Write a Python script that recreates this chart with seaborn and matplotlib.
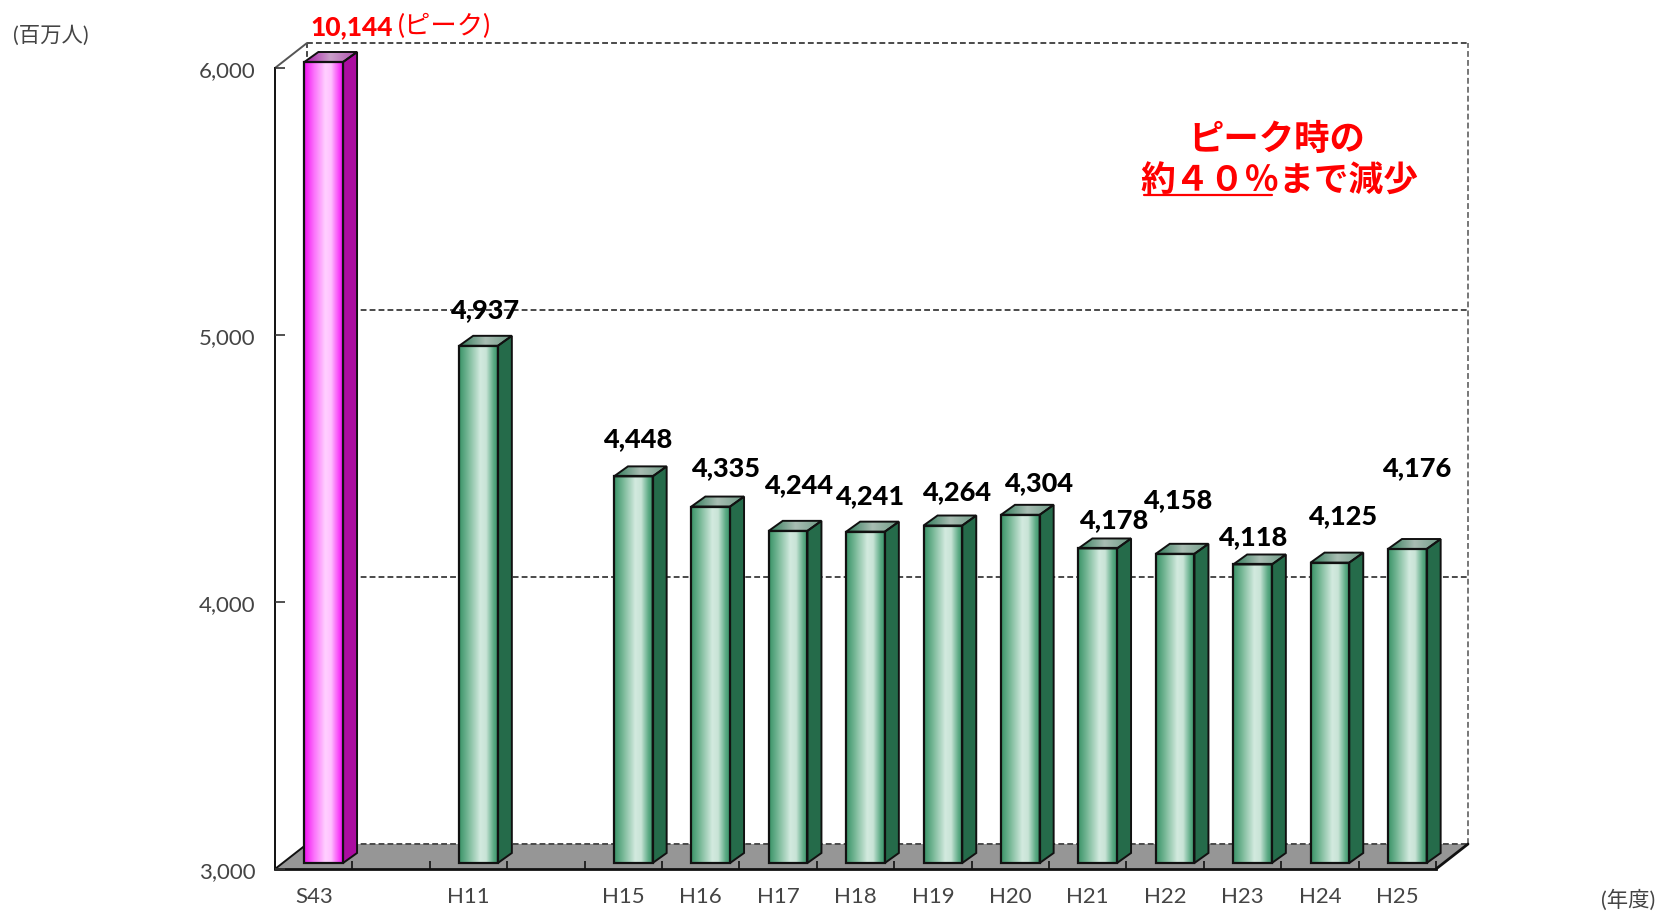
import numpy as np
import pandas as pd
import seaborn as sns
import matplotlib
matplotlib.use("Agg")
import matplotlib.pyplot as plt
from matplotlib.colors import LinearSegmentedColormap
from matplotlib.lines import Line2D
from matplotlib.patches import Polygon
from matplotlib.transforms import Affine2D

# data
categories = ["S43", "H11", "H15", "H16", "H17", "H18", "H19", "H20", "H21", "H22", "H23", "H24", "H25"]
values = [10144, 4937, 4448, 4335, 4244, 4241, 4264, 4304, 4178, 4158, 4118, 4125, 4176]
slots = ["S43", " ", "H11", "  ", "H15", "H16", "H17", "H18", "H19", "H20", "H21", "H22", "H23", "H24", "H25"]
yticks = [3000, 4000, 5000, 6000]

# offset of each value label from the front of its bar, pixels
label_dx = [0, 6, 4, 15, 10, 4, 14, 18, 16, 3, 0, 13, 9]
label_dy = [0, 37, 38, 39, 47, 37, 34, 33, 29, 55, 28, 48, 82]

W, H = 1659, 912
JP = ["Lato", "Noto Sans CJK JP"]

sns.set_theme(style="white")
plt.rcParams["font.family"] = JP

fig = plt.figure(figsize=(W / 100, H / 100), dpi=100)
ax = fig.add_axes([275 / W, (H - 870) / H, (1436 - 275) / W, (870 - 69) / H])

df = pd.DataFrame({"year": categories, "value": values})
sns.barplot(data=df, x="year", y="value", order=slots, width=0.5, color="#3f9a70",
            saturation=1, errorbar=None, ax=ax)
ax.set_ylim(3000, 6000)
ax.set_xlim(-0.5, 14.5)
ax.set_xlabel("")
ax.set_ylabel("")
ax.set_axisbelow(False)

# pixel offsets: back wall, and the plane the bars stand on
back = ax.transData + Affine2D().translate(32, 25)
plane = ax.transData + Affine2D().translate(10, 6)
px, py = 14, 10

x0, x1 = ax.get_xlim()
xperpx = (x1 - x0) / 1161
yperpx = 3000 / 801
bx, by = 32 * xperpx, 25 * yperpx

floor = Polygon([[x0, 3000], [x1, 3000], [x1 + bx, 3000 + by], [x0 + bx, 3000 + by]],
                closed=True, fc="#969696", ec="none", zorder=1, clip_on=False)
ax.add_patch(floor)

# back wall
dash = dict(color="#4a4a4a", lw=1.4, ls=(0, (3, 1.6)), clip_on=False, zorder=1.5)
for t in yticks:
    ax.plot([x0, x1], [t, t], transform=back, **dash)
ax.plot([x1, x1], [3000, 6000], transform=back, color="#777777", lw=1.4, ls=(0, (3, 1.6)), clip_on=False, zorder=1.5)
ax.plot([x0, x0], [3000, 6000], transform=back, **dash)

# side wall and floor edges
ax.plot([x0, x0 + bx], [6000, 6000 + by], color="#555555", lw=1.4, clip_on=False, zorder=1.6)
ax.plot([x0, x0 + bx], [3000, 3000 + by], color="#111111", lw=1.4, clip_on=False, zorder=1.6)
ax.plot([x1, x1 + bx], [3000, 3000 + by], color="#111111", lw=2, clip_on=False, zorder=1.6)

green = LinearSegmentedColormap.from_list("g", [(0, "#3a9468"), (0.25, "#7dbb9b"), (0.55, "#d3eadf"),
                                                (0.7, "#c8e4d6"), (0.9, "#5aa983"), (1, "#3b966c")])
pink = LinearSegmentedColormap.from_list("p", [(0, "#f010f0"), (0.25, "#fb70fb"), (0.55, "#ffd0ff"),
                                               (0.7, "#ffc0ff"), (0.9, "#f848f8"), (1, "#f010f0")])
top_green = LinearSegmentedColormap.from_list("tg", ["#2f7a58", "#a9bdb3", "#6f9c86"])
top_pink = LinearSegmentedColormap.from_list("tp", ["#a818a8", "#c9a0c9", "#b050b0"])
grad = np.linspace(0, 1, 64).reshape(1, -1)

# the S43 bar runs off the scale, so it stops at the top of the axis
bars = [p for p in ax.patches if p is not floor]
for i, p in enumerate(bars):
    first = categories[i] == "S43"
    top = min(values[i], yticks[-1])
    left, right = p.get_x(), p.get_x() + p.get_width()
    dx, dy = px * xperpx, py * yperpx

    ax.imshow(grad, cmap=pink if first else green, aspect="auto", extent=[left, right, 3000, top],
              transform=plane, zorder=3, clip_on=False)
    p.set_transform(plane)
    p.set_y(3000)
    p.set_height(top - 3000)
    p.set_facecolor("none")
    p.set_edgecolor("#111111")
    p.set_linewidth(1.6)
    p.set_zorder(4)
    p.set_clip_on(False)

    side = Polygon([[right, 3000], [right, top], [right + dx, top + dy], [right + dx, 3000 + dy]],
                   closed=True, fc="#ab0da0" if first else "#256b4a", ec="#111111", lw=1.4,
                   transform=plane, zorder=3.5, clip_on=False)
    ax.add_patch(side)

    # top face, gradient cut to the parallelogram
    roof = Polygon([[left, top], [right, top], [right + dx, top + dy], [left + dx, top + dy]],
                   closed=True, fc="none", ec="#111111", lw=1.4, transform=plane, zorder=3.6, clip_on=False)
    ax.add_patch(roof)
    im2 = ax.imshow(grad, cmap=top_pink if first else top_green, aspect="auto",
                    extent=[left, right + dx, top, top + dy], transform=plane, zorder=3.4)
    im2.set_clip_on(True)
    im2.set_clip_box(fig.bbox)
    im2.set_clip_path(roof.get_path(), roof.get_transform())

ax.set_xlim(x0, x1)
ax.set_ylim(3000, 6000)

# value labels
for i, cat in enumerate(categories):
    if cat == "S43":
        continue
    ax.annotate(f"{values[i]:,}", xy=(slots.index(cat), values[i]), xycoords=plane,
                xytext=(label_dx[i], label_dy[i]),
                textcoords="offset pixels", ha="center", va="center", fontsize=19.5,
                fontweight="black", color="black", zorder=6, annotation_clip=False)

fig.text(310 / W, 1 - 27 / H, "10,144", fontsize=19, fontweight="black", color="#ff0000", ha="left", va="center")
fig.text(398 / W, 1 - 26 / H, "(ピーク)", fontsize=19, color="#ff0000", ha="left", va="center", family=JP)

# axes, ticks
for s in ["top", "right"]:
    ax.spines[s].set_visible(False)
ax.spines["left"].set_color("#111111")
ax.spines["left"].set_linewidth(1.4)
ax.spines["bottom"].set_color("#111111")
ax.spines["bottom"].set_linewidth(2)
ax.spines["left"].set_zorder(2)
ax.spines["bottom"].set_zorder(2)

ax.set_yticks(yticks)
ax.set_yticklabels([f"{t:,}" for t in yticks], fontsize=16, color="#444444")
ax.tick_params(axis="y", direction="in", length=7.5, width=1.2, color="#333333", left=True, pad=14)

ax.set_xticks([slots.index(c) for c in categories])
ax.set_xticklabels(categories, fontsize=16, color="#444444")
ax.tick_params(axis="x", which="major", length=0, pad=12, bottom=False)
ax.set_xticks(np.arange(x0, x1 + 0.5), minor=True)
ax.tick_params(axis="x", which="minor", direction="in", length=5.8, width=1.2, color="#111111", bottom=True)

# unit labels
fig.text(13 / W, 1 - 36 / H, "(百万人)", fontsize=15.4, color="#444444", ha="left", va="center", family=JP)
fig.text(1601 / W, 1 - 900 / H, "(年度)", fontsize=15.4, color="#444444", ha="left", va="center", family=JP)

# callout
fig.text(1277 / W, 1 - 139 / H, "ピーク時の", fontsize=25.5, fontweight="bold", color="#ff0000",
         ha="center", va="center", family=JP)
fig.text(1279 / W, 1 - 181 / H, "約４０％まで減少", fontsize=25, fontweight="bold", color="#ff0000",
         ha="center", va="center", family=JP)
fig.add_artist(Line2D([1144 / W, 1272 / W], [1 - 196 / H, 1 - 196 / H], color="#ff0000", lw=1.6))

fig.savefig("out.png", dpi=100, facecolor="white")
